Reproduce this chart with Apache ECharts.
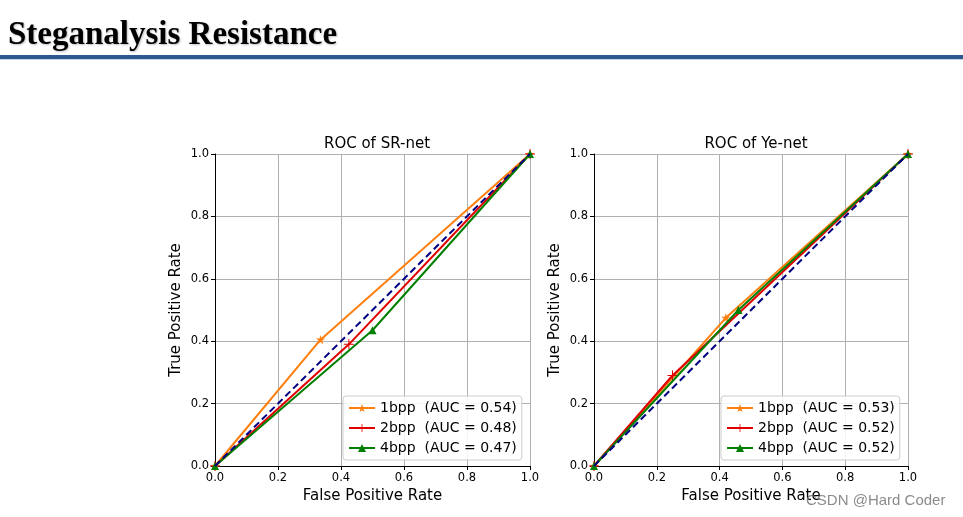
<!DOCTYPE html>
<html><head><meta charset="utf-8">
<script src="https://cdn.jsdelivr.net/npm/echarts@6/dist/echarts.min.js"></script>
<style>html,body{margin:0;padding:0;background:#fff}#c{width:963px;height:517px}</style>
</head><body><div id="c"></div>
<script>
// ---- data ----
const pageTitle = 'Steganalysis Resistance';
const chartTitles = ['ROC of SR-net', 'ROC of Ye-net'];
const tickLabels = ['0.0', '0.2', '0.4', '0.6', '0.8', '1.0'];
const seriesLabels = ['1bpp', '2bpp', '4bpp'];
const aucSR = ['0.54', '0.48', '0.47'];
const aucYe = ['0.53', '0.52', '0.52'];
// ROC points [FPR, TPR]
const sr1 = [[0, 0], [0.335, 0.405], [1, 1]];
const sr2 = [[0, 0], [0.425, 0.39], [1, 1]];
const sr4 = [[0, 0], [0.5, 0.435], [1, 1]];
const ye1 = [[0, 0], [0.42, 0.475], [1, 1]];
const ye2 = [[0, 0], [0.25, 0.29], [1, 1]];
const ye4 = [[0, 0], [0.46, 0.50], [1, 1]];
const chance = [[0, 0], [1, 1]];
const watermark = 'CSDN @Hard Coder';

const colors = ['#ff7f0e', '#e00000', '#007f00'];
const STAR = 'path://M0,-10 L2.35,-3.24 L9.51,-3.09 L3.8,1.24 L5.88,8.09 L0,4 L-5.88,8.09 L-3.8,1.24 L-9.51,-3.09 L-2.35,-3.24 Z';
const PLUS = 'path://M-1,-10 L1,-10 L1,-1 L10,-1 L10,1 L1,1 L1,10 L-1,10 L-1,1 L-10,1 L-10,-1 L-1,-1 Z';
const symbols = [STAR, PLUS, 'triangle'];
const symSizes = [9, 10, 8];
const font = 'DejaVu Sans';

const grids = [
  {left: 215, top: 154, width: 315, height: 312},
  {left: 594, top: 154, width: 314, height: 312}
];
function axis(i, type) {
  const isX = type === 'x';
  return {
    type: 'value', gridIndex: i, min: 0, max: 1, interval: 0.2,
    name: isX ? 'False Positive Rate' : 'True Positive Rate',
    nameLocation: 'middle', nameGap: isX ? 23 : 31,
    nameTextStyle: {fontFamily: font, fontSize: 15, color: '#000'},
    axisLine: {show: true, onZero: false, lineStyle: {color: '#000', width: 1}},
    axisTick: {show: true, length: 4, lineStyle: {color: '#000'}},
    axisLabel: {fontFamily: font, fontSize: 11.5, color: '#000', margin: 6,
      formatter: v => tickLabels[Math.round(v * 5)]},
    splitLine: {show: true, lineStyle: {color: '#b0b0b0', width: 1}}
  };
}
const all = [[sr1, sr2, sr4, aucSR], [ye1, ye2, ye4, aucYe]];
const series = [];
const legends = [];
all.forEach((set, g) => {
  const names = [];
  for (let k = 0; k < 3; k++) {
    const nm = seriesLabels[k] + '  (AUC = ' + set[3][k] + ')';
    names.push(nm);
    series.push({
      type: 'line', name: nm, xAxisIndex: g, yAxisIndex: g, data: set[k],
      symbol: symbols[k], symbolSize: symSizes[k], showAllSymbol: true,
      lineStyle: {color: colors[k], width: 2}, itemStyle: {color: colors[k]},
      z: 3 + k, animation: false
    });
  }
  series.push({
    type: 'line', name: 'chance' + g, xAxisIndex: g, yAxisIndex: g, data: chance,
    symbol: 'none', lineStyle: {color: '#000080', width: 2, type: [7, 4]}, z: 6, animation: false
  });
  legends.push({
    data: names, orient: 'vertical',
    left: g === 0 ? 343 : 721, top: 396,
    itemWidth: 26, itemHeight: 10, itemGap: 6,
    textStyle: {fontFamily: font, fontSize: 14, color: '#000'},
    backgroundColor: 'rgba(255,255,255,0.85)', borderColor: '#cccccc', borderWidth: 1,
    borderRadius: 3, padding: [5, 5, 5, 5], selectedMode: false
  });
});

const chart = echarts.init(document.getElementById('c'), null, {renderer: 'canvas'});
chart.setOption({
  animation: false,
  backgroundColor: '#fff',
  title: [
    {text: pageTitle, left: 3, top: 14, textStyle: {fontFamily: 'Liberation Serif', fontSize: 33, fontWeight: 'bold', color: '#000',
      textShadowColor: 'rgba(0,0,0,0.25)', textShadowOffsetX: 1, textShadowOffsetY: 1, textShadowBlur: 2}},
    {text: chartTitles[0], left: 372, top: 132, textAlign: 'center', textStyle: {fontFamily: font, fontSize: 15, fontWeight: 'normal', color: '#000'}},
    {text: chartTitles[1], left: 751, top: 132, textAlign: 'center', textStyle: {fontFamily: font, fontSize: 15, fontWeight: 'normal', color: '#000'}}
  ],
  graphic: [
    {type: 'rect', shape: {x: 0, y: 55, width: 963, height: 4}, style: {fill: '#2d5890'}, silent: true},
    {type: 'rect', shape: {x: 0, y: 59, width: 963, height: 1}, style: {fill: '#c8d4e4'}, silent: true},
    {type: 'text', left: 806, top: 493, style: {text: watermark, font: '15px Arial, "Liberation Sans"', fill: 'rgba(110,110,110,0.8)'}, z: 100}
  ],
  grid: grids,
  xAxis: [axis(0, 'x'), axis(1, 'x')],
  yAxis: [axis(0, 'y'), axis(1, 'y')],
  legend: legends,
  series: series
});
</script></body></html>
